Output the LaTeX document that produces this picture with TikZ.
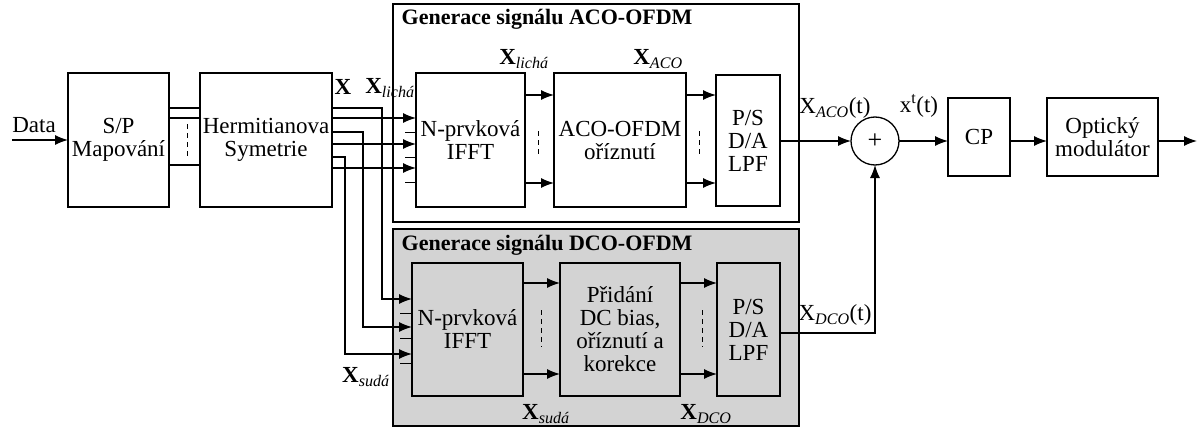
\documentclass[tikz,border=0pt]{standalone}
\usepackage{fontspec}
\setmainfont{Liberation Serif}
\usetikzlibrary{arrows.meta}
\definecolor{boxgray}{RGB}{211,211,211}
\begin{document}
\begin{tikzpicture}[x=1pt,y=-1pt,
  font=\fontsize{23}{23}\selectfont,
  every path/.style={line width=1.3pt},
  blk/.style={draw, inner sep=0pt, outer sep=0pt, align=center},
  arr/.style={-{Latex[length=13pt,width=10pt]}},
  lbl/.style={inner sep=0pt},
  dsh/.style={dashed, dash pattern=on 5pt off 4pt, line width=1pt},
  tick/.style={line width=1pt}]
\useasboundingbox (0,0) rectangle (1200,428);
% frames
\node[blk, minimum width=406pt, minimum height=218pt] (acof) at (596,113) {};
\node[blk, fill=boxgray, minimum width=406pt, minimum height=197pt] (dcof) at (596,327.5) {};
\node[lbl, anchor=west, font=\fontsize{22}{22}\selectfont\bfseries] (acot) at (401,19) {Generace signálu ACO-OFDM};
\node[lbl, anchor=west, font=\fontsize{22}{22}\selectfont\bfseries] (dcot) at (401,245) {Generace signálu DCO-OFDM};
% blocks
\node[blk, minimum width=101pt, minimum height=134pt] (sp) at (118.5,140) {S/P\\Mapování};
\node[blk, minimum width=132pt, minimum height=134pt] (herm) at (266,140) {Hermitianova\\Symetrie};
\node[blk, minimum width=109pt, minimum height=134pt] (aifft) at (470.5,140) {N-prvková\\IFFT};
\node[blk, minimum width=132pt, minimum height=134pt] (aclip) at (620,140) {ACO-OFDM\\oříznutí};
\node[blk, minimum width=64pt, minimum height=131pt] (aps) at (748,140.5) {P/S\\D/A\\LPF};
\node[blk, minimum width=111pt, minimum height=133pt] (difft) at (467.5,329.5) {N-prvková\\IFFT};
\node[blk, minimum width=120pt, minimum height=133pt] (dmid) at (620,329.5) {Přidání\\DC bias,\\oříznutí a\\korekce};
\node[blk, minimum width=63pt, minimum height=133pt] (dps) at (748.5,329.5) {P/S\\D/A\\LPF};
\node[blk, circle, minimum size=48pt] (sum) at (875,141) {\fontsize{26}{26}\selectfont +};
\node[blk, minimum width=62pt, minimum height=78pt] (cp) at (979,137) {CP};
\node[blk, minimum width=111pt, minimum height=78pt] (opt) at (1102.5,137) {Optický\\modulátor};
% free ends
\coordinate (din) at (12,140);
\coordinate (dout) at (1197,140);
% data input
\draw[arr] (din) -- (sp.west |- din);
\node[lbl] (datal) at (34,125) {Data};
% S/P to Hermitian
\draw (sp.east |- 0,108) -- (herm.west |- 0,108);
\draw (sp.east |- 0,118) -- (herm.west |- 0,118);
\draw (sp.east |- 0,165) -- (herm.west |- 0,165);
\draw[dsh] (187,124) -- (187,158);
% Hermitian outputs to DCO IFFT
\draw[arr] (herm.east |- 0,108) -| (382,299) -- (difft.west |- 0,299);
\draw[arr] (herm.east |- 0,132) -| (363,327) -- (difft.west |- 0,327);
\draw[arr] (herm.east |- 0,157) -| (345,354) -- (difft.west |- 0,354);
% Hermitian outputs to ACO IFFT
\draw[arr] (herm.east |- 0,118) -- (aifft.west |- 0,118);
\draw[arr] (herm.east |- 0,144) -- (aifft.west |- 0,144);
\draw[arr] (herm.east |- 0,168) -- (aifft.west |- 0,168);
% ticks
\foreach \yy in {132,157,182} \draw[tick] (405,\yy) -- (aifft.west |- 0,\yy);
\foreach \yy in {313,338,363} \draw[tick] (400,\yy) -- (difft.west |- 0,\yy);
% ACO chain
\draw[arr] (aifft.east |- 0,95) -- (aclip.west |- 0,95);
\draw[arr] (aifft.east |- 0,183) -- (aclip.west |- 0,183);
\draw[arr] (aclip.east |- 0,95) -- (aps.west |- 0,95);
\draw[arr] (aclip.east |- 0,183) -- (aps.west |- 0,183);
\draw[dsh] (538,131) -- (538,157);
\draw[dsh] (699,131) -- (699,157);
% DCO chain
\draw[arr] (difft.east |- 0,283) -- (dmid.west |- 0,283);
\draw[arr] (difft.east |- 0,374) -- (dmid.west |- 0,374);
\draw[arr] (dmid.east |- 0,283) -- (dps.west |- 0,283);
\draw[arr] (dmid.east |- 0,374) -- (dps.west |- 0,374);
\draw[dsh] (541,310) -- (541,347);
\draw[dsh] (702,310) -- (702,347);
% to summation and output
\draw[arr] (aps.east |- sum) -- (sum.west);
\draw[arr] (dps.east |- 0,333) -| (sum.south);
\draw[arr] (sum.east) -- (cp.west |- sum);
\draw[arr] (cp.east |- sum) -- (opt.west |- sum);
\draw[arr] (opt.east |- sum) -- (dout |- sum);
% labels
\node[lbl] (lx) at (343,87) {\textbf{X}};
\node[lbl] (lxl1) at (390,88) {\textbf{X}\textsubscript{\textit{lichá}}};
\node[lbl] (lxl2) at (524,59) {\textbf{X}\textsubscript{\textit{lichá}}};
\node[lbl] (lxaco) at (658,59) {\textbf{X}\textsubscript{\textit{ACO}}};
\node[lbl] (lxs1) at (366,377) {\textbf{X}\textsubscript{\textit{sudá}}};
\node[lbl] (lxs2) at (546,414) {\textbf{X}\textsubscript{\textit{sudá}}};
\node[lbl] (lxdco) at (706,414) {\textbf{X}\textsubscript{\textit{DCO}}};
\node[lbl] (lxacot) at (835,108) {X\textsubscript{\textit{ACO}}(t)};
\node[lbl] (lxt) at (919,106) {x\textsuperscript{t}(t)};
\node[lbl] (lxdcot) at (835,315) {X\textsubscript{\textit{DCO}}(t)};
\end{tikzpicture}
\end{document}
